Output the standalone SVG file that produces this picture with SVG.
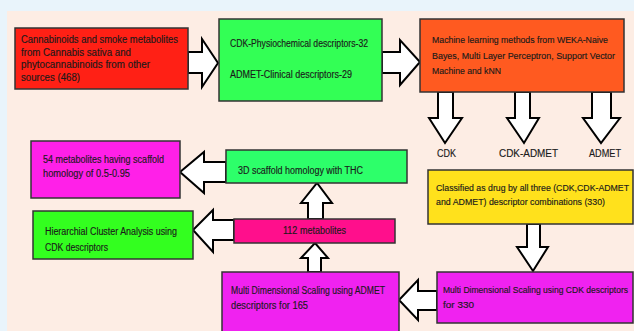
<svg xmlns="http://www.w3.org/2000/svg" width="634" height="331" viewBox="0 0 634 331">
<style>
.box{stroke:#333;stroke-width:1.5}
.arr{fill:#fff;stroke:#000;stroke-width:2;stroke-linejoin:miter}
text{font-family:"Liberation Sans",Arial,sans-serif;font-size:10px;fill:#1a1a1a;stroke:#1a1a1a;stroke-width:0.15}
.lbl{font-size:10.5px}
.s96{font-size:9.6px}
.s88{font-size:8.8px}
.s86{font-size:8.6px}
</style>
<rect x="0" y="0" width="634" height="331" fill="#e9f4fb"/>
<rect x="7" y="11" width="627" height="320" fill="#fdede4"/>

<g id="connectors">
<polygon class="arr" points="188,52 202,52 202,39 218,63 202,87 202,73 188,73"/>
<polygon class="arr" points="382,52 400,52 400,40 420,62 400,85 400,73 382,73"/>
<polygon class="arr" points="438,92 453,92 453,118 462,118 445,143 429,118 438,118"/>
<polygon class="arr" points="515,92 530,92 530,118 539,118 524,143 507,118 515,118"/>
<polygon class="arr" points="592,92 611,92 611,118 620,118 601,143 583,118 592,118"/>
<polygon class="arr" points="527,224 540,224 540,247 548,247 533,271 517,247 527,247"/>
<polygon class="arr" points="437,291 418,291 418,280 399,300 418,320 418,310 437,310"/>
<polygon class="arr" points="308,272 308,258 301,258 315,243 328,258 321,258 321,272"/>
<polygon class="arr" points="308,219 308,203 301,203 317,183 332,203 323,203 323,219"/>
<polygon class="arr" points="226,162 204,162 204,152 180,172 204,193 204,182 226,182"/>
<polygon class="arr" points="234,220 213,220 213,210 193,230 213,252 213,240 234,240"/>
</g>

<g id="n_sources">
<rect class="box" x="15" y="28" width="173" height="61" fill="#ff2015"/>
<text x="21" y="43" textLength="157" lengthAdjust="spacingAndGlyphs">Cannabinoids and smoke metabolites</text>
<text x="21" y="56" textLength="110" lengthAdjust="spacingAndGlyphs">from Cannabis sativa and</text>
<text x="21" y="68" textLength="129" lengthAdjust="spacingAndGlyphs">phytocannabinoids from other</text>
<text x="21" y="81" textLength="59" lengthAdjust="spacingAndGlyphs">sources (468)</text>
</g>

<g id="n_descriptors">
<rect class="box" x="219" y="19" width="163" height="82" fill="#33ff55"/>
<text x="230" y="47" textLength="138" lengthAdjust="spacingAndGlyphs">CDK-Physiochemical descriptors-32</text>
<text x="230" y="78" textLength="122" lengthAdjust="spacingAndGlyphs">ADMET-Clinical descriptors-29</text>
</g>

<g id="n_ml">
<rect class="box" x="420" y="19" width="204" height="73" fill="#ff5a20"/>
<text class="s96" x="432" y="43" textLength="176" lengthAdjust="spacingAndGlyphs">Machine learning methods from WEKA-Naive</text>
<text class="s96" x="432" y="59" textLength="183" lengthAdjust="spacingAndGlyphs">Bayes, Multi Layer Perceptron, Support Vector</text>
<text class="s96" x="432" y="74" textLength="69" lengthAdjust="spacingAndGlyphs">Machine and kNN</text>
</g>

<g id="n_labels">
<text class="lbl" x="437" y="157" textLength="19" lengthAdjust="spacingAndGlyphs">CDK</text>
<text class="lbl" x="499" y="157" textLength="59" lengthAdjust="spacingAndGlyphs">CDK-ADMET</text>
<text class="lbl" x="589" y="157" textLength="32" lengthAdjust="spacingAndGlyphs">ADMET</text>
</g>

<g id="n_classified">
<rect class="box" x="428" y="170" width="205" height="54" fill="#ffe11c"/>
<text class="s88" x="436" y="191" textLength="193" lengthAdjust="spacingAndGlyphs">Classified as drug by all three (CDK,CDK-ADMET</text>
<text class="s88" x="436" y="205" textLength="169" lengthAdjust="spacingAndGlyphs">and ADMET) descriptor combinations (330)</text>
</g>

<g id="n_mds_cdk">
<rect class="box" x="437" y="272" width="196" height="51" fill="#f022f0"/>
<text class="s86" x="443" y="292.5" textLength="185" lengthAdjust="spacingAndGlyphs">Multi Dimensional Scaling using CDK descriptors</text>
<text class="s86" x="443" y="307.5" textLength="31" lengthAdjust="spacingAndGlyphs">for 330</text>
</g>

<g id="n_mds_admet">
<rect class="box" x="222" y="272" width="177" height="65" fill="#f022f0"/>
<text x="231" y="293.5" textLength="154" lengthAdjust="spacingAndGlyphs">Multi Dimensional Scaling using ADMET</text>
<text x="231" y="308.5" textLength="77" lengthAdjust="spacingAndGlyphs">descriptors for 165</text>
</g>

<g id="n_112">
<rect class="box" x="234" y="219" width="161" height="24" fill="#ff0f8c"/>
<text x="283" y="233.5" textLength="63" lengthAdjust="spacingAndGlyphs">112 metabolites</text>
</g>

<g id="n_3d">
<rect class="box" x="226" y="150" width="181" height="33" fill="#2dff6a"/>
<text x="238" y="173.5" textLength="125" lengthAdjust="spacingAndGlyphs">3D scaffold homology with THC</text>
</g>

<g id="n_54">
<rect class="box" x="31" y="141" width="149" height="57" fill="#ff20e8"/>
<text x="43" y="162.5" textLength="121" lengthAdjust="spacingAndGlyphs">54 metabolites having scaffold</text>
<text x="43" y="176.5" textLength="87" lengthAdjust="spacingAndGlyphs">homology of 0.5-0.95</text>
</g>

<g id="n_hca">
<rect class="box" x="33" y="211" width="160" height="48" fill="#33ff1f"/>
<text x="45" y="234.5" textLength="132" lengthAdjust="spacingAndGlyphs">Hierarchial Cluster Analysis using</text>
<text x="45" y="250.5" textLength="63" lengthAdjust="spacingAndGlyphs">CDK descriptors</text>
</g>
</svg>
